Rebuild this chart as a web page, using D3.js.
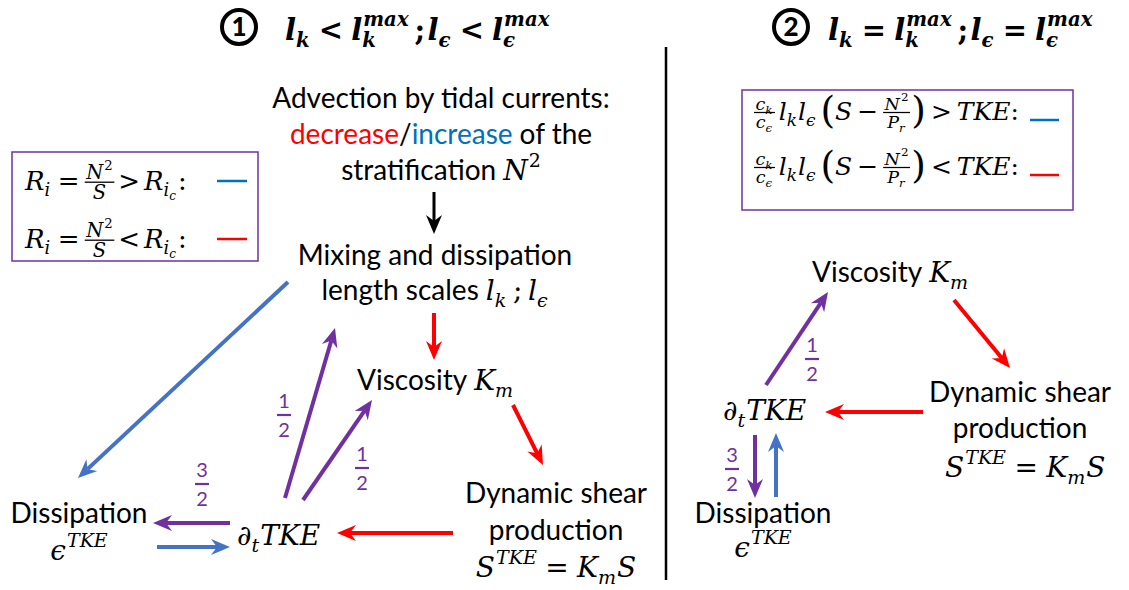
<!DOCTYPE html>
<html>
<head>
<meta charset="utf-8">
<script src="https://cdn.jsdelivr.net/npm/d3@7"></script>
<style>body{margin:0;background:#fff}</style>
</head>
<body>
<svg width="1129" height="590"></svg>
<script>
var RED = "#ff0000", BLUE = "#4472c4", LBLUE = "#0070c0", PURPLE = "#7030a0";
var SANS = "Lato, 'Noto Sans', sans-serif";
var MATH = "'DejaVu Serif', 'Liberation Serif', serif";

// --- math pieces (f: s = sans, m = math italic, r = math roman, B = bold italic, Br = bold roman)
var lk  = {t: "l", f: "m", sub: [{t: "k", f: "m"}]};
var le  = {t: "l", f: "m", sub: [{t: "ϵ", f: "m"}]};
var Km  = {t: "K", f: "m", sub: [{t: "m", f: "m"}]};
var N2  = {t: "N", f: "m", sup: [{t: "2", f: "r"}]};
var tkeSup = [{t: "TKE", f: "m"}];

// --- titles
var title1 = [
  {t: "l", f: "B", sub: [{t: "k", f: "B"}]}, {sp: .28}, {t: "<", f: "Br"}, {sp: .28},
  {t: "l", f: "B", sub: [{t: "k", f: "B"}], sup: [{t: "max", f: "B"}]}, {sp: .2}, {t: ";", f: "Br"}, {sp: .08},
  {t: "l", f: "B", sub: [{t: "ϵ", f: "B"}]}, {sp: .28}, {t: "<", f: "Br"}, {sp: .28},
  {t: "l", f: "B", sub: [{t: "ϵ", f: "B"}], sup: [{t: "max", f: "B"}]}
];
var title2 = [
  {t: "l", f: "B", sub: [{t: "k", f: "B"}]}, {sp: .28}, {t: "=", f: "Br"}, {sp: .28},
  {t: "l", f: "B", sub: [{t: "k", f: "B"}], sup: [{t: "max", f: "B"}]}, {sp: .2}, {t: ";", f: "Br"}, {sp: .08},
  {t: "l", f: "B", sub: [{t: "ϵ", f: "B"}]}, {sp: .28}, {t: "=", f: "Br"}, {sp: .28},
  {t: "l", f: "B", sub: [{t: "ϵ", f: "B"}], sup: [{t: "max", f: "B"}]}
];
var panelMarks = ["1", "2"];

// --- legends
var Ri  = {t: "R", f: "m", sub: [{t: "i", f: "m"}]};
var Ric = {t: "R", f: "m", sub: [{t: "i", f: "m", sub: [{t: "c", f: "m"}]}]};
var legend1Rows = [
  [Ri, {sp: .25}, {t: "=", f: "r"}, {sp: .2}, {frac: [[N2], [{t: "S", f: "m"}]], k: .75}, {sp: .1}, {t: ">", f: "r"}, {sp: .15}, Ric, {t: ":", f: "r"}],
  [Ri, {sp: .25}, {t: "=", f: "r"}, {sp: .2}, {frac: [[N2], [{t: "S", f: "m"}]], k: .75}, {sp: .1}, {t: "<", f: "r"}, {sp: .15}, Ric, {t: ":", f: "r"}]
];
var ckce = {frac: [[{t: "c", f: "m", sub: [{t: "k", f: "m"}]}], [{t: "c", f: "m", sub: [{t: "ϵ", f: "m"}]}]], k: .7};
var NPr  = {frac: [[N2], [{t: "P", f: "m", sub: [{t: "r", f: "m"}]}]], k: .7};
var legend2Rows = [
  [ckce, {sp: .1}, lk, le, {sp: .15}, {t: "(", f: "r", k: 1.5, dy: .1}, {t: "S", f: "m"}, {sp: .2}, {t: "−", f: "r"}, {sp: .2}, NPr, {t: ")", f: "r", k: 1.5, dy: .1}, {sp: .2}, {t: ">", f: "r"}, {sp: .2}, {t: "TKE", f: "m"}, {t: ":", f: "r"}],
  [ckce, {sp: .1}, lk, le, {sp: .15}, {t: "(", f: "r", k: 1.5, dy: .1}, {t: "S", f: "m"}, {sp: .2}, {t: "−", f: "r"}, {sp: .2}, NPr, {t: ")", f: "r", k: 1.5, dy: .1}, {sp: .2}, {t: "<", f: "r"}, {sp: .2}, {t: "TKE", f: "m"}, {t: ":", f: "r"}]
];
var legendColours = [LBLUE, RED];

// --- node labels
var advection = [
  ["Advection by tidal currents:"],
  [{t: "decrease", c: RED}, "/", {t: "increase", c: LBLUE}, {sp: .25}, "of the"],
  ["stratification", {sp: .25}, N2]
];
var mixing = [["Mixing and dissipation"], ["length scales", {sp: .25}, lk, {sp: .2}, {t: ";", f: "r"}, {sp: .2}, le]];
var viscosity = [["Viscosity", {sp: .25}, Km]];
var shear = [["Dynamic shear"], ["production"],
  [{t: "S", f: "m", sup: tkeSup}, {sp: .3}, {t: "=", f: "r"}, {sp: .3}, Km, {t: "S", f: "m"}]];
var tke = [[{t: "∂", f: "r", sub: [{t: "t", f: "m"}]}, {t: "TKE", f: "m"}]];
var dissipation = [["Dissipation"], [{t: "ϵ", f: "m", sup: tkeSup}]];

// --- arrows: colour and weight label
var arrowColours = ["#000", RED, RED, RED, BLUE, PURPLE, BLUE, PURPLE, PURPLE,
                    PURPLE, RED, RED, PURPLE, BLUE];
var arrowWeights = [null, null, null, null, null, ["3", "2"], null, ["1", "2"], ["1", "2"],
                    ["1", "2"], null, null, ["3", "2"], null];

// ---------------- layout ----------------
var arrowPos = [
  [434, 192, 434, 234], [434, 313, 434, 360], [513, 405, 543, 465], [453, 533, 337, 533],
  [288, 282, 78, 478], [230, 523, 153, 523], [157, 547, 230, 547],
  [285, 498, 335, 328], [303, 500, 372, 400],
  [766, 385, 828, 292], [954, 300, 1010, 368], [923, 412, 825, 412],
  [755, 435, 755, 498], [776, 497, 776, 433]
];
var weightPos = [null, null, null, null, null, [202, 484], null, [284, 415], [362, 468],
                 [812, 359], null, null, [732, 469], null];

var svg = d3.select("svg");

function styleText(t, f, size, col) {
  t.attr("font-size", size).attr("fill", col || "#000");
  if (f === "s") t.attr("font-family", SANS);
  else t.attr("font-family", MATH)
        .attr("font-style", (f === "m" || f === "B") ? "italic" : "normal")
        .attr("font-weight", (f === "B" || f === "Br") ? "bold" : "normal");
  return t;
}

// draws a run of items at (0,0) inside g, returns its width
function drawRun(g, items, size, col) {
  var x = 0;
  items.forEach(function(it) {
    if (typeof it === "string") it = {t: it};
    if (it.sp != null) { x += it.sp * size; return; }
    var c = it.c || col;
    if (it.frac) {
      var fs = size * (it.k || 0.7);
      var bar = -0.3 * size;
      var gn = g.append("g"), gd = g.append("g");
      var wn = drawRun(gn, it.frac[0], fs, c);
      var wd = drawRun(gd, it.frac[1], fs, c);
      var w = Math.max(wn, wd) + size * 0.12;
      gn.attr("transform", "translate(" + (x + (w - wn) / 2) + "," + (bar - 0.12 * size) + ")");
      gd.attr("transform", "translate(" + (x + (w - wd) / 2) + "," + (bar + 0.1 * size + 0.72 * fs) + ")");
      g.append("line").attr("x1", x).attr("x2", x + w).attr("y1", bar).attr("y2", bar)
        .attr("stroke", c || "#000").attr("stroke-width", Math.max(1.2, size / 20));
      x += w + size * 0.05;
      return;
    }
    var s = size * (it.k || 1);
    var t = styleText(g.append("text").attr("x", x).attr("y", (it.dy || 0) * size).text(it.t), it.f || "s", s, c);
    x += t.node().getComputedTextLength();
    if (it.sub || it.sup) {
      var w2 = 0, ss = size * 0.68;
      if (it.sup) {
        var gs = g.append("g").attr("transform", "translate(" + (x + 1) + "," + (-0.48 * size) + ")");
        w2 = Math.max(w2, drawRun(gs, it.sup, ss, c));
      }
      if (it.sub) {
        var gb = g.append("g").attr("transform", "translate(" + x + "," + (0.24 * size) + ")");
        w2 = Math.max(w2, drawRun(gb, it.sub, ss, c));
      }
      x += w2 + 1;
    }
  });
  return x;
}

function place(items, x, y, size, anchor, col) {
  var g = svg.append("g");
  var w = drawRun(g, items, size, col);
  var dx = anchor === "middle" ? w / 2 : anchor === "end" ? w : 0;
  g.attr("transform", "translate(" + (x - dx) + "," + y + ")");
  return w;
}

function block(lines, x, y0, lh, anchor) {
  lines.forEach(function(l, i) { place(l, x, y0 + i * lh, 28, anchor); });
}

function arrow(p, col) {
  var x1 = p[0], y1 = p[1], x2 = p[2], y2 = p[3];
  var a = Math.atan2(y2 - y1, x2 - x1), ux = Math.cos(a), uy = Math.sin(a), px = -uy, py = ux;
  var L = 19, H = 8, N = 6, sw = col === "#000" ? 3 : 4;
  svg.append("line").attr("x1", x1).attr("y1", y1)
    .attr("x2", x2 - ux * (L - N)).attr("y2", y2 - uy * (L - N))
    .attr("stroke", col).attr("stroke-width", sw);
  var pts = [[x2, y2], [x2 - ux * L + px * H, y2 - uy * L + py * H],
             [x2 - ux * (L - N), y2 - uy * (L - N)], [x2 - ux * L - px * H, y2 - uy * L - py * H]];
  svg.append("path").attr("d", d3.line()(pts) + "Z").attr("fill", col);
}

function weight(w, p) {
  var g = svg.append("g").attr("transform", "translate(" + p[0] + "," + p[1] + ")");
  g.append("text").attr("y", -7).attr("text-anchor", "middle").attr("font-family", SANS)
    .attr("font-size", 20).attr("fill", PURPLE).text(w[0]);
  g.append("text").attr("y", 22).attr("text-anchor", "middle").attr("font-family", SANS)
    .attr("font-size", 20).attr("fill", PURPLE).text(w[1]);
  g.append("line").attr("x1", -7).attr("x2", 7).attr("stroke", PURPLE).attr("stroke-width", 2.2);
}

// titles
[[239, 27, title1, 285], [791, 27, title2, 828]].forEach(function(d, i) {
  svg.append("circle").attr("cx", d[0]).attr("cy", d[1]).attr("r", 17)
    .attr("fill", "none").attr("stroke", "#000").attr("stroke-width", 4);
  svg.append("text").attr("x", d[0]).attr("y", d[1] + 9).attr("text-anchor", "middle")
    .attr("font-family", SANS).attr("font-weight", 900).attr("font-size", 26).text(panelMarks[i]);
  place(d[2], d[3], 40, 29, "start");
});

// divider
svg.append("line").attr("x1", 666).attr("x2", 666).attr("y1", 47).attr("y2", 580)
  .attr("stroke", "#000").attr("stroke-width", 2.5);

// legends
svg.append("rect").attr("x", 12).attr("y", 152).attr("width", 246).attr("height", 109)
  .attr("fill", "none").attr("stroke", PURPLE).attr("stroke-width", 1.5);
legend1Rows.forEach(function(r, i) {
  var y = [190, 248][i];
  place(r, 25, y, 26, "start");
  svg.append("line").attr("x1", 217).attr("x2", 247).attr("y1", y - 9).attr("y2", y - 9)
    .attr("stroke", legendColours[i]).attr("stroke-width", 2.5);
});
svg.append("rect").attr("x", 742).attr("y", 90).attr("width", 331).attr("height", 120)
  .attr("fill", "none").attr("stroke", PURPLE).attr("stroke-width", 1.5);
legend2Rows.forEach(function(r, i) {
  var y = [120, 175][i];
  place(r, 754, y, 25, "start");
  svg.append("line").attr("x1", 1030).attr("x2", 1059).attr("y1", y).attr("y2", y)
    .attr("stroke", legendColours[i]).attr("stroke-width", 2.5);
});

// panel 1 nodes
block(advection, 441, 108, 36, "middle");
block(mixing, 435, 265, 35, "middle");
block(viscosity, 357, 390, 37, "start");
block(shear, 556, 503, 37, "middle");
block(tke, 237, 545, 37, "start");
block(dissipation, 79, 523, 37, "middle");
// panel 2 nodes
block(viscosity, 812, 282, 37, "start");
block(shear.slice(0, 2), 1020, 402, 36, "middle");
block(shear.slice(2), 945, 477, 37, "start");
block(tke, 723, 420, 37, "start");
block(dissipation, 763, 523, 34, "middle");

// arrows
arrowPos.forEach(function(p, i) {
  arrow(p, arrowColours[i]);
  if (arrowWeights[i]) weight(arrowWeights[i], weightPos[i]);
});
</script>
</body>
</html>
